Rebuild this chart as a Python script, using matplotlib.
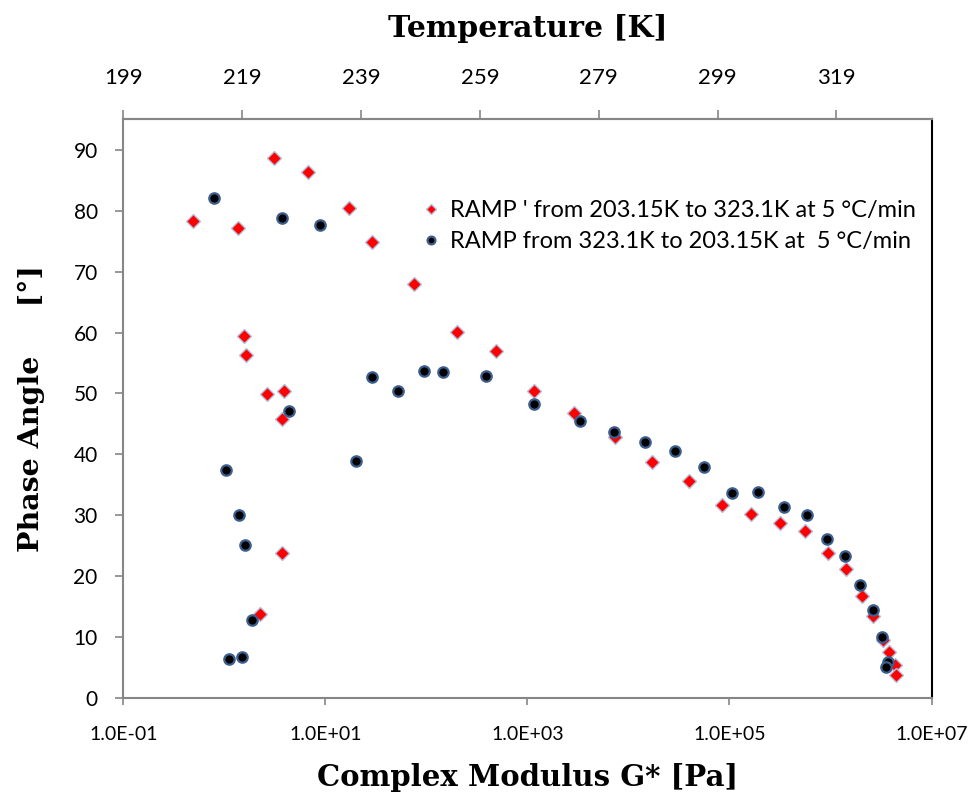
import numpy as np
import matplotlib.pyplot as plt
from matplotlib.ticker import FixedLocator, FuncFormatter, NullLocator

# RAMP ' heating run: complex modulus G* [Pa] and phase angle [deg]
heat_g = [0.493, 1.355, 3.076, 6.730, 17.14, 29.11, 75.34, 199.1, 487.5, 1167,
          2864, 7345, 17260, 39630, 84140, 161800, 315500, 561000, 941900,
          1419000, 2042000, 2642000, 3319000, 3837000, 4305000, 4467000,
          1.574, 1.637, 2.624, 3.864, 3.741, 3.698, 2.254]
heat_phase = [78.2, 77.1, 88.6, 86.3, 80.4, 74.9, 68.0, 60.1, 56.9, 50.4,
              46.8, 42.9, 38.7, 35.7, 31.8, 30.2, 28.8, 27.5, 23.9,
              21.3, 16.8, 13.6, 9.6, 7.6, 5.5, 3.8,
              59.5, 56.3, 49.9, 50.4, 45.8, 23.9, 13.9]

# RAMP cooling run
cool_g = [0.785, 3.698, 8.790, 29.11, 52.6, 93.97, 145.9, 388.2, 1151, 3311,
          7178, 14660, 29040, 56230, 105700, 192300, 345100, 583400, 914100,
          1377000, 1963000, 2642000, 3199000, 3750000, 3532000,
          4.335, 1.030, 19.95, 1.406, 1.589, 1.879, 1.112, 1.507]
cool_phase = [82.1, 78.8, 77.6, 52.7, 50.4, 53.7, 53.5, 52.9, 48.3, 45.5,
              43.7, 42.1, 40.6, 37.9, 33.7, 33.9, 31.4, 30.1, 26.2,
              23.4, 18.6, 14.5, 10.1, 6.0, 5.1,
              47.1, 37.5, 38.9, 30.0, 25.2, 12.9, 6.5, 6.8]

heat_label = "RAMP ' from 203.15K to 323.1K at 5 °C/min"
cool_label = "RAMP from 323.1K to 203.15K at  5 °C/min"

x_ticks = [1e-1, 1e1, 1e3, 1e5, 1e7]
y_ticks = list(range(0, 100, 10))
temp_ticks = [199, 219, 239, 259, 279, 299, 319]

tick_font = "Lato"
label_font = "DejaVu Serif"
axis_grey = "#868686"

fig = plt.figure(figsize=(9.79, 8.07), dpi=100)
ax = fig.add_axes([0.126, 0.1345, 0.8255, 0.718])

ax.plot(heat_g, heat_phase, linestyle="none", marker="D", markersize=7,
        markerfacecolor="red", markeredgecolor="#b3bfdc", markeredgewidth=1.0,
        label=heat_label, zorder=3)
ax.plot(cool_g, cool_phase, linestyle="none", marker="o", markersize=7.5,
        markerfacecolor="black", markeredgecolor="#3d5f8f", markeredgewidth=1.6,
        label=cool_label, zorder=4)

ax.set_xscale("log")
ax.set_xlim(1e-1, 1e7)
ax.set_ylim(0, 95)
ax.xaxis.set_major_locator(FixedLocator(x_ticks))
ax.xaxis.set_minor_locator(NullLocator())
ax.xaxis.set_major_formatter(FuncFormatter(lambda v, p: f"{v:.1E}"))
ax.set_yticks(y_ticks)

for side in ["left", "bottom", "top"]:
    ax.spines[side].set_color(axis_grey)
    ax.spines[side].set_linewidth(1.5)
ax.spines["right"].set_color("black")
ax.spines["right"].set_linewidth(1.5)

ax.tick_params(axis="x", direction="out", length=5, width=1.2,
               color=axis_grey, labelsize=14, pad=15)
ax.tick_params(axis="y", direction="out", length=6, width=1.2,
               color=axis_grey, labelsize=15, pad=12.5)
for lab in ax.get_xticklabels() + ax.get_yticklabels():
    lab.set_fontfamily(tick_font)

ax.set_xlabel("Complex Modulus G* [Pa]", fontsize=21, fontweight="bold",
              family=label_font)
ax.xaxis.set_label_coords(0.5, -0.112)
ax.set_ylabel("Phase Angle     [°]", fontsize=20.5, fontweight="bold",
              family=label_font)
ax.yaxis.set_label_coords(-0.097, 0.5)

# top temperature axis
ax2 = ax.twiny()
ax2.set_xlim(199, 335)
ax2.set_xticks(temp_ticks)
ax2.tick_params(axis="x", direction="out", length=6.5, width=1.2,
                color=axis_grey, labelsize=16, pad=16)
for lab in ax2.get_xticklabels():
    lab.set_fontfamily(tick_font)
for side in ["left", "right", "bottom"]:
    ax2.spines[side].set_visible(False)
ax2.spines["top"].set_color(axis_grey)
ax2.spines["top"].set_linewidth(1.5)
ax2.set_xlabel("Temperature [K]", fontsize=21.5, fontweight="bold",
               family=label_font)
ax2.xaxis.set_label_coords(0.5, 1.142)

leg = ax.legend(loc="upper left", bbox_to_anchor=(0.36, 0.876), frameon=False,
                prop={"family": tick_font, "size": 17}, markerscale=0.75,
                handlelength=0.6, handletextpad=0.5, labelspacing=0.4,
                borderaxespad=0)

fig.savefig("out.png", dpi=100)
